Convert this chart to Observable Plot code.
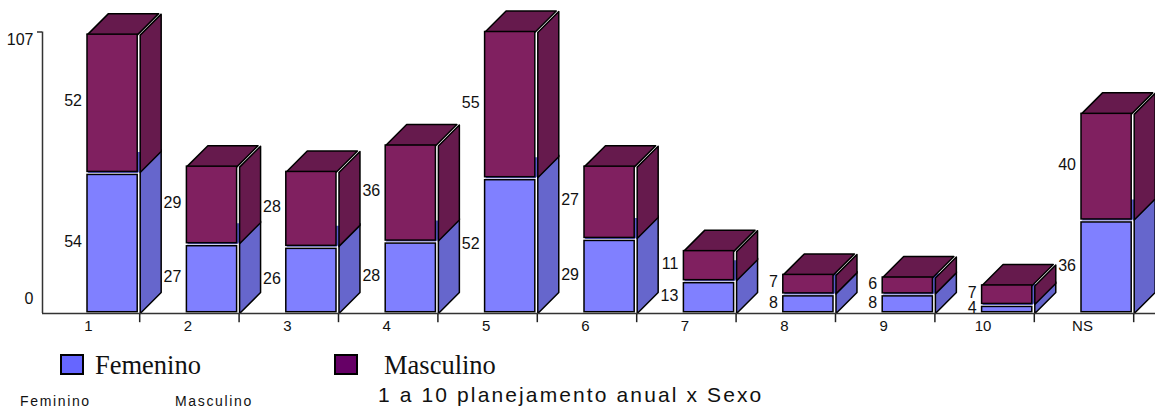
<!DOCTYPE html>
<html><head><meta charset="utf-8">
<script src="https://cdn.jsdelivr.net/npm/d3@7"></script>
<script src="https://cdn.jsdelivr.net/npm/@observablehq/plot@0.6"></script>
<style>
html,body{margin:0;padding:0;background:#fff;width:1155px;height:410px;overflow:hidden}
#wrap{position:relative;width:1155px;height:410px}
#chart svg{display:block}
.t{position:absolute;white-space:nowrap;color:#111;line-height:1}
.s{position:absolute;box-sizing:border-box;border:2px solid #000;width:24px;height:21px}
</style></head>
<body><div id="wrap"><div id="chart"></div>
<div class="s" style="left:60px;top:354px;background:#6666FF"></div>
<div class="t" style="left:95px;top:350px;font:26.5px 'Liberation Serif'">Femenino</div>
<div class="s" style="left:334px;top:354px;background:#660066"></div>
<div class="t" style="left:384px;top:350px;font:26.5px 'Liberation Serif'">Masculino</div>
<div class="t" style="left:378px;top:383px;font:21px 'Liberation Sans';letter-spacing:2.12px">1 a 10 planejamento anual x Sexo</div>
<div class="t" style="left:20px;top:393px;font:14px 'Liberation Sans';letter-spacing:1.65px">Feminino</div>
<div class="t" style="left:175px;top:393px;font:14px 'Liberation Sans';letter-spacing:1.65px">Masculino</div>
</div>
<script>
const categories = ["1","2","3","4","5","6","7","8","9","10","NS"];
const feminino  = [54,27,26,28,52,29,13,8,8,4,36];
const masculino = [52,29,28,36,55,27,11,7,6,7,40];
const yTicks = [0,107];

const W = 1155, H = 335;
const x0 = 87, unit = 99.4;
const barW = 0.505, depthX = 0.211, depthY = 7.95;
const rows = categories.map((c,i)=>({c,i,f:feminino[i],m:masculino[i],t:feminino[i]+masculino[i]}));
const poly = (id,pts)=>[...pts,pts[0]].map(([x,y])=>({id,x,y}));
const sideFace = (i,a,b)=>{const r=i+barW;return poly(`s${i}-${a}`,[[r,a],[r+depthX,a+depthY],[r+depthX,b+depthY],[r,b]]);};
const topFace = (i,b)=>{const r=i+barW;return poly(`t${i}-${b}`,[[i,b],[i+depthX,b+depthY],[r+depthX,b+depthY],[r,b]]);};
const face = (data,fill,dx=0,dy=0,stroke="#000")=>Plot.line(data,{x:"x",y:"y",z:"id",fill,stroke,strokeWidth:1.5,dx,dy,curve:"linear"});

const sideF = rows.flatMap(d=>sideFace(d.i,0,d.f));
const sideM = rows.flatMap(d=>sideFace(d.i,d.f,d.t));
const topF  = rows.flatMap(d=>topFace(d.i,d.f));
const topM  = rows.flatMap(d=>topFace(d.i,d.t));

const chart = Plot.plot({
  width:W,height:H,margin:0,
  x:{type:"linear",domain:[-x0/unit,(W-x0)/unit],range:[0,W],axis:null},
  y:{type:"linear",domain:[0,107],range:[314,31.5],axis:null},
  style:{background:"transparent",fontFamily:"'Liberation Sans'",overflow:"visible"},
  marks:[
    Plot.ruleX([(42-x0)/unit],{y1:0.4,y2:107,stroke:"#333",strokeWidth:1.5}),
    Plot.ruleY([107],{x1:(37-x0)/unit,x2:(42-x0)/unit,stroke:"#333",strokeWidth:1.5}),
    Plot.ruleX(rows,{x:d=>d.i+barW+2/unit,y1:0,y2:-3.1,stroke:"#222",strokeWidth:1.5}),
    Plot.text([yTicks[1]],{x:(33-x0)/unit,y:d=>d,text:d=>String(d),textAnchor:"end",fontSize:16,fill:"#111",dy:8}),
    Plot.text([yTicks[0]],{x:(33-x0)/unit,y:d=>d,text:d=>String(d),textAnchor:"end",fontSize:16,fill:"#111",dy:-16}),
    face(sideF,"#6666CC",2.5,-1),
    face(topF,"#5A5AC8",0,1,"none"),
    face(sideM,"#661A4D",2.5,0.5),
    face(topM,"#661A4D"),
    Plot.rect(rows,{x1:"i",x2:d=>d.i+barW,y1:0,y2:"f",fill:"#8080FF",stroke:"#000",strokeWidth:1.5,insetBottom:2.3,insetTop:3}),
    Plot.rect(rows,{x1:"i",x2:d=>d.i+barW,y1:"f",y2:"t",fill:"#802060",stroke:"#000",strokeWidth:1.5}),
    Plot.ruleY([0],{x1:(42-x0)/unit,x2:(W-x0)/unit,stroke:"#333",strokeWidth:1.5,dy:-1}),
    Plot.text(rows,{x:"i",y:d=>d.f/2,text:"f",textAnchor:"end",dx:-5.5,dy:-1.5,fontSize:16,fill:"#111"}),
    Plot.text(rows,{x:"i",y:d=>d.f+d.m/2,text:"m",textAnchor:"end",dx:-5.5,dy:-2,fontSize:16,fill:"#111"}),
    Plot.text(rows,{x:"i",y:0,text:"c",dx:1,dy:12,fontSize:15,fill:"#111"})
  ]
});
document.getElementById("chart").appendChild(chart);
</script></body></html>
